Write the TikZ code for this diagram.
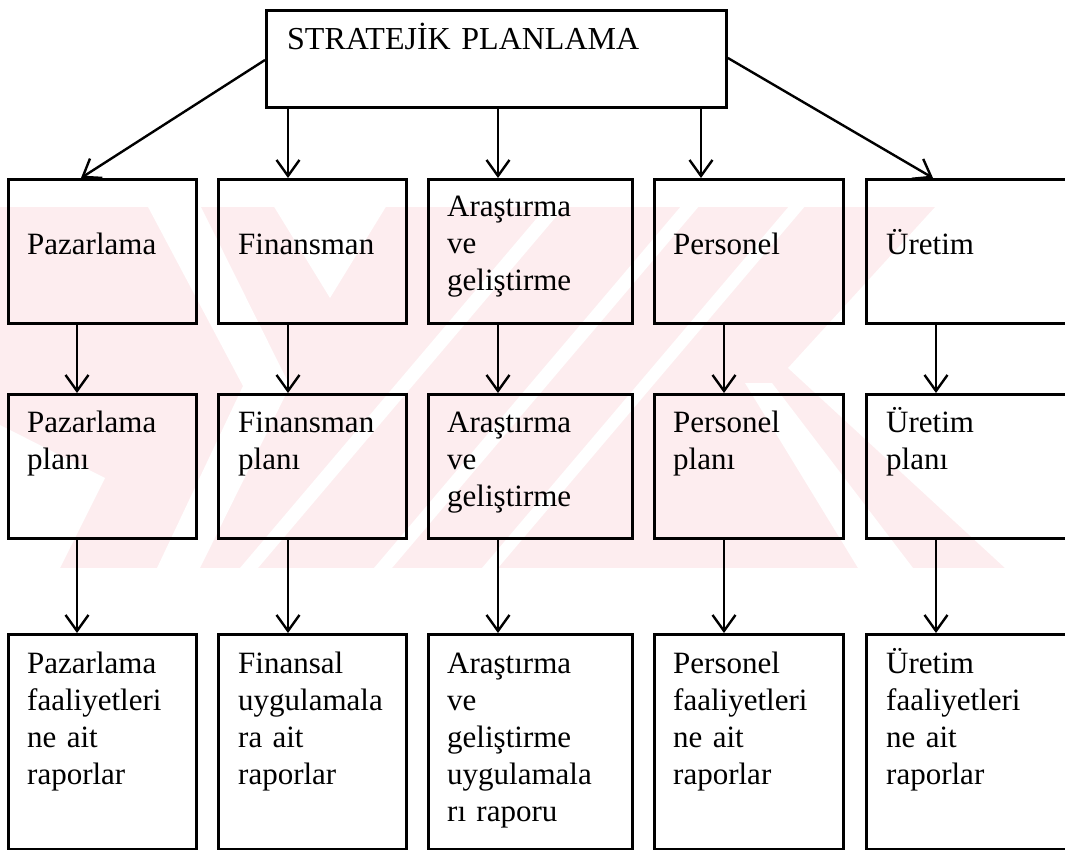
\documentclass[tikz,border=0pt]{standalone}
\usepackage{fontspec}
\setmainfont{Liberation Serif}
\usetikzlibrary{arrows.meta,calc}
\definecolor{wm}{RGB}{253,237,239}
\begin{document}
\begin{tikzpicture}[x=1pt,y=-1pt,
  box/.style={draw, line width=2.9pt, inner sep=0pt, anchor=north west},
  lbl/.style={anchor=base west, inner sep=0pt, text width=180pt, align=left,
    font=\fontsize{31}{37}\selectfont},
  arr/.style={line width=2.4pt, -{Straight Barb[length=16pt,width=23pt,line width=2.4pt]}},
  cut/.style={fill=white}]
\useasboundingbox (0,0) rectangle (1065,850);
% watermark (faint background logo)
\begin{scope}
\clip (0,207) rectangle (1010,568);
\fill[wm] (0,207) rectangle (1010,568);
\fill[cut] (147,205) -- (200,205) -- (290,386) -- (200,568) -- (157,568) -- (243,386) -- cycle;
\fill[cut] (273,205) -- (387,205) -- (330,298) -- cycle;
\fill[cut] (0,425) -- (105,478) -- (60,568) -- (0,568) -- cycle;
\fill[cut] (548,205) -- (566,205) -- (258,568) -- (240,568) -- cycle;
\fill[cut] (682,205) -- (700,205) -- (392,568) -- (374,568) -- cycle;
\fill[cut] (790,205) -- (806,205) -- (498,568) -- (482,568) -- cycle;
\fill[cut] (937,205) -- (1070,205) -- (1070,568) -- (1005,568) -- (788,368) -- cycle;
\fill[cut] (745,383) -- (772,383) -- (913,568) -- (858,568) -- cycle;
\end{scope}
% boxes
\node[box, minimum width=460pt, minimum height=97pt] (top) at (265,9) {};
\node[lbl, text width=420pt, font=\fontsize{32}{37}\selectfont] (ttop) at ($(top.north west)+(22,41)$) {STRATEJİK PLANLAMA};

\node[box, minimum width=188pt, minimum height=144pt] (a1) at (7,178) {};
\node[box, minimum width=188pt, minimum height=144pt] (b1) at (217,178) {};
\node[box, minimum width=204pt, minimum height=144pt] (c1) at (427,178) {};
\node[box, minimum width=189pt, minimum height=144pt] (d1) at (653,178) {};
\node[box, minimum width=230pt, minimum height=144pt] (e1) at (865,178) {};

\node[box, minimum width=188pt, minimum height=144pt] (a2) at (7,393) {};
\node[box, minimum width=188pt, minimum height=144pt] (b2) at (217,393) {};
\node[box, minimum width=204pt, minimum height=144pt] (c2) at (427,393) {};
\node[box, minimum width=189pt, minimum height=144pt] (d2) at (653,393) {};
\node[box, minimum width=230pt, minimum height=144pt] (e2) at (865,393) {};

\node[box, minimum width=188pt, minimum height=215pt] (a3) at (7,633) {};
\node[box, minimum width=188pt, minimum height=215pt] (b3) at (217,633) {};
\node[box, minimum width=204pt, minimum height=215pt] (c3) at (427,633) {};
\node[box, minimum width=189pt, minimum height=215pt] (d3) at (653,633) {};
\node[box, minimum width=230pt, minimum height=215pt] (e3) at (865,633) {};

% texts
\node[lbl] (ta1) at ($(a1.north west)+(20,77)$) {Pazarlama};
\node[lbl] (tb1) at ($(b1.north west)+(21,77)$) {Finansman};
\node[lbl] (tc1) at ($(c1.north west)+(20,39)$) {Araştırma\\ve\\geliştirme};
\node[lbl] (td1) at ($(d1.north west)+(20,77)$) {Personel};
\node[lbl] (te1) at ($(e1.north west)+(21,77)$) {Üretim};

\node[lbl] (ta2) at ($(a2.north west)+(20,39)$) {Pazarlama\\planı};
\node[lbl] (tb2) at ($(b2.north west)+(21,39)$) {Finansman\\planı};
\node[lbl] (tc2) at ($(c2.north west)+(20,39)$) {Araştırma\\ve\\geliştirme};
\node[lbl] (td2) at ($(d2.north west)+(20,39)$) {Personel\\planı};
\node[lbl] (te2) at ($(e2.north west)+(21,39)$) {Üretim\\planı};

\node[lbl] (ta3) at ($(a3.north west)+(20,40)$) {Pazarlama\\faaliyetleri\\ne ait\\raporlar};
\node[lbl] (tb3) at ($(b3.north west)+(21,40)$) {Finansal\\uygulamala\\ra ait\\raporlar};
\node[lbl] (tc3) at ($(c3.north west)+(20,40)$) {Araştırma\\ve\\geliştirme\\uygulamala\\rı raporu};
\node[lbl] (td3) at ($(d3.north west)+(20,40)$) {Personel\\faaliyetleri\\ne ait\\raporlar};
\node[lbl] (te3) at ($(e3.north west)+(21,40)$) {Üretim\\faaliyetleri\\ne ait\\raporlar};

% connectors from the top box
\draw[arr] (top.west |- 0,60) -- (a1.north -| 81,0);
\draw[arr] (top.south -| 288,0) -- (b1.north -| 288,0);
\draw[arr] (top.south -| 498,0) -- (c1.north -| 498,0);
\draw[arr] (top.south -| 701,0) -- (d1.north -| 701,0);
\draw[arr] (top.east |- 0,58) -- (e1.north -| 933,0);
% row 1 to row 2
\draw[arr] (a1.south -| 77,0) -- (a2.north -| 77,0);
\draw[arr] (b1.south -| 288,0) -- (b2.north -| 288,0);
\draw[arr] (c1.south -| 498,0) -- (c2.north -| 498,0);
\draw[arr] (d1.south -| 724,0) -- (d2.north -| 724,0);
\draw[arr] (e1.south -| 936,0) -- (e2.north -| 936,0);
% row 2 to row 3
\draw[arr] (a2.south -| 77,0) -- (a3.north -| 77,0);
\draw[arr] (b2.south -| 288,0) -- (b3.north -| 288,0);
\draw[arr] (c2.south -| 498,0) -- (c3.north -| 498,0);
\draw[arr] (d2.south -| 724,0) -- (d3.north -| 724,0);
\draw[arr] (e2.south -| 936,0) -- (e3.north -| 936,0);
\end{tikzpicture}
\end{document}
